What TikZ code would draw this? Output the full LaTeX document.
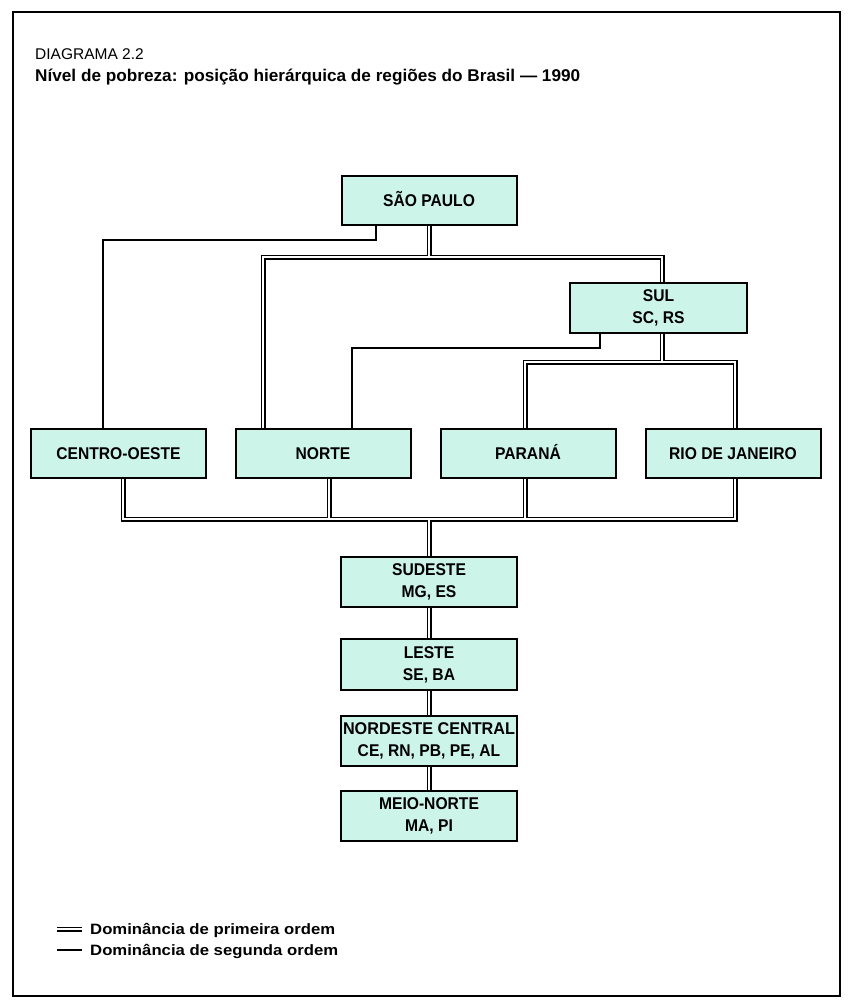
\documentclass[tikz,border=0pt]{standalone}
\usepackage{fontspec}
\setmainfont{Liberation Sans}
\newfontfamily\boxfont[FakeStretch=0.92]{Liberation Sans}
\usepackage{graphicx}
\definecolor{boxfill}{RGB}{204,244,232}
\tikzset{
  region/.style={draw=black, line width=2pt, fill=boxfill, minimum width=175pt, minimum height=49pt,
    inner sep=0pt, align=center, font=\boxfont\fontsize{17}{22}\selectfont\bfseries},
  single/.style={draw=black, line width=2pt, line join=miter},
  dbl/.style={draw=white, line width=2.1pt, line join=miter,
    preaction={draw=black, line width=5pt, line join=miter}},
  txt/.style={anchor=base west, inner sep=0pt},
}
\begin{document}
\begin{tikzpicture}[x=1pt,y=-1pt]
\useasboundingbox (0,0) rectangle (854,1001);
\draw[line width=1.6pt] (13,12) rectangle (840,996);

% titles
\node[txt, font=\fontsize{15.5}{18}\selectfont] (t1) at (35,59) {DIAGRAMA 2.2};
\node[txt, font=\fontsize{17}{19}\selectfont\bfseries] (t2) at (35,81)
  {\resizebox{545pt}{\height}{Nível de pobreza: posição hierárquica de regiões do Brasil — 1990}};

% boxes
\node[region] (sp) at (429,200.5) {S\smash{Ã}O PAULO};
\node[region, minimum width=177pt, minimum height=50pt] (sul) at (658.5,308) {SUL\\SC, RS};
\node[region] (co) at (118.5,453.5) {CENTRO-OESTE};
\node[region] (norte) at (323,453.5) {NORTE};
\node[region] (parana) at (528,453.5) {PARAN\smash{Á}};
\node[region] (rio) at (733,453.5) {RIO DE JANEIRO};
\node[region, minimum width=176pt, minimum height=50pt] (sudeste) at (429,582) {SUDESTE\\MG, ES};
\node[region, minimum width=176pt, minimum height=51pt] (leste) at (429,664.5) {LESTE\\SE, BA};
\node[region, minimum width=176pt, minimum height=50pt] (nordeste) at (429,741)
  {\resizebox{172pt}{\height}{NORDESTE CENTRAL}\\CE, RN, PB, PE, AL};
\node[region, minimum width=176pt, minimum height=50pt] (meio) at (429,816) {MEIO-NORTE\\MA, PI};

% junction coordinates
\coordinate (a1) at (376,240);
\coordinate (a2) at (103,240);
\coordinate (b1) at (600,348);
\coordinate (b2) at (352,348);
\coordinate (h1) at (429,257);
\coordinate (h1l) at (263,257);
\coordinate (h1r) at (662,257);
\coordinate (h2l) at (525,362);
\coordinate (h2m) at (662,362);
\coordinate (h2r) at (735,362);
\coordinate (h3l) at (123,519);
\coordinate (h3m) at (429,519);
\coordinate (h3r) at (735,519);
\coordinate (v1) at (329,519);
\coordinate (v2) at (525,519);

% second-order (single) links
\draw[single] (sp.south -| a1) -- (a1) -- (a2) -- (co.north -| a2);
\draw[single] (sul.south -| b1) -- (b1) -- (b2) -- (norte.north -| b2);

% first-order (double) links
\draw[dbl]
  (sp.south) -- (h1)
  (norte.north -| h1l) -- (h1l) -- (h1r) -- (sul.north -| h1r)
  (sul.south -| h2m) -- (h2m)
  (parana.north -| h2l) -- (h2l) -- (h2r) -- (rio.north -| h2r)
  (co.south -| h3l) -- (h3l) -- (h3r) -- (rio.south -| h3r)
  (norte.south -| v1) -- (v1)
  (parana.south -| v2) -- (v2)
  (h3m) -- (sudeste.north)
  (sudeste.south) -- (leste.north)
  (leste.south) -- (nordeste.north)
  (nordeste.south) -- (meio.north);

% legend
\coordinate (l1a) at (57,929);
\coordinate (l1b) at (82,929);
\coordinate (l2a) at (57,950);
\coordinate (l2b) at (82,950);
\draw[dbl] (l1a) -- (l1b);
\draw[single] (l2a) -- (l2b);
\node[txt, font=\fontsize{15}{17}\selectfont\bfseries] (leg1) at (90,934)
  {\resizebox{245pt}{\height}{Dominância de primeira ordem}};
\node[txt, font=\fontsize{15}{17}\selectfont\bfseries] (leg2) at (90,955)
  {\resizebox{248pt}{\height}{Dominância de segunda ordem}};
\end{tikzpicture}
\end{document}
